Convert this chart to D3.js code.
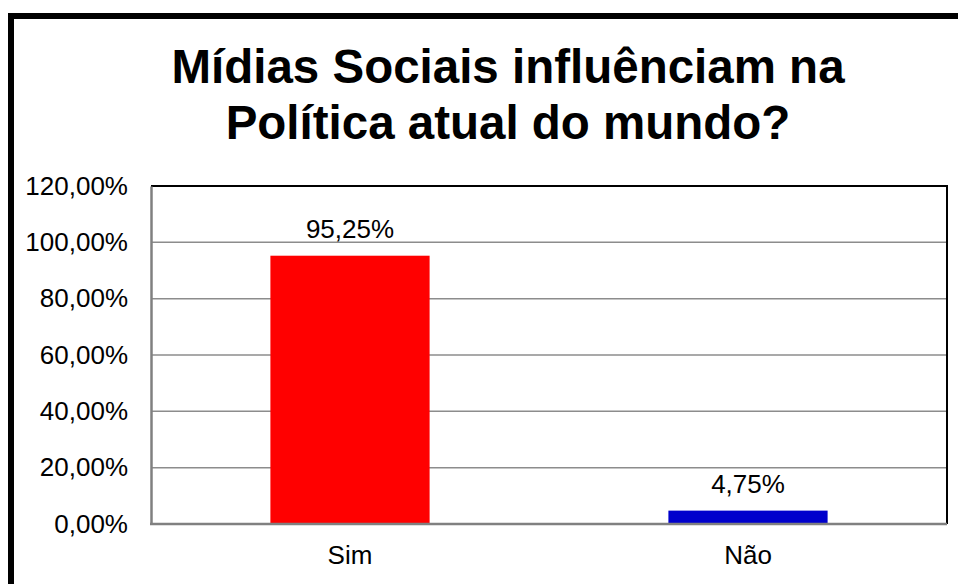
<!DOCTYPE html>
<html>
<head>
<meta charset="utf-8">
<script src="https://cdn.jsdelivr.net/npm/d3@7"></script>
<style>
html,body{margin:0;padding:0;background:#fff;}
svg{display:block;font-family:Arial,"Liberation Sans",sans-serif;}
</style>
</head>
<body>
<svg id="chart" width="958" height="584"></svg>
<script>
const categories = ["Sim", "Não"];
const values = [95.25, 4.75];
const colors = ["#FF0000", "#0000CC"];
const tickValues = [0, 20, 40, 60, 80, 100, 120];
const titleLines = ["Mídias Sociais influênciam na", "Política atual do mundo?"];

const fmt = v => d3.format(".2f")(v).replace(".", ",") + "%";

const svg = d3.select("#chart");
const m = {left: 151, top: 186, right: 947, bottom: 524};

// outer border
svg.append("rect").attr("x", 11).attr("y", 16).attr("width", 1000).attr("height", 700)
  .attr("fill", "#fff").attr("stroke", "#000").attr("stroke-width", 6);

// title
const title = svg.append("text").attr("text-anchor", "middle")
  .attr("font-weight", "bold").attr("font-size", 47.5).attr("fill", "#000");
titleLines.forEach((t, i) => {
  title.append("tspan").attr("x", 508).attr("y", 83 + i * 56).text(t);
});

const x = d3.scaleBand().domain(categories).range([m.left, m.right]).paddingInner(0.6).paddingOuter(0.3);
const y = d3.scaleLinear().domain([0, 120]).range([m.bottom, m.top]);

// gridlines
svg.append("g").selectAll("line").data(tickValues.filter(v => v > 0 && v < 120)).join("line")
  .attr("x1", m.left).attr("x2", m.right)
  .attr("y1", d => y(d)).attr("y2", d => y(d))
  .attr("stroke", "#8c8c8c").attr("stroke-width", 1.5);

// top and right border
svg.append("path")
  .attr("d", `M${m.left},${m.top}H${m.right}V${m.bottom}`)
  .attr("fill", "none").attr("stroke", "#000").attr("stroke-width", 2);

// bars
svg.append("g").selectAll("rect").data(values).join("rect")
  .attr("x", (d, i) => x(categories[i]))
  .attr("width", x.bandwidth())
  .attr("y", d => y(d))
  .attr("height", d => y(0) - y(d))
  .attr("fill", (d, i) => colors[i]);

// value labels
svg.append("g").selectAll("text").data(values).join("text")
  .attr("x", (d, i) => x(categories[i]) + x.bandwidth() / 2)
  .attr("y", d => y(d) - 18)
  .attr("text-anchor", "middle").attr("font-size", 26).attr("fill", "#000")
  .text(d => fmt(d));

// y axis
const yAxis = d3.axisLeft(y).tickValues(tickValues).tickSize(0).tickPadding(23).tickFormat(fmt);
const gy = svg.append("g").attr("transform", `translate(${m.left},0)`).call(yAxis);
gy.select(".domain").attr("stroke", "#808080").attr("stroke-width", 2.5);
gy.selectAll("text").attr("font-size", 26).attr("fill", "#000")
  .attr("font-family", 'Arial,"Liberation Sans",sans-serif');

// x axis
const xAxis = d3.axisBottom(x).tickSize(0).tickPadding(22);
const gx = svg.append("g").attr("transform", `translate(0,${m.bottom})`).call(xAxis);
gx.select(".domain").attr("stroke", "#808080").attr("stroke-width", 2.5)
  .attr("d", `M${m.left - 1},0H${m.right}`);
gx.selectAll("text").attr("font-size", 26).attr("fill", "#000")
  .attr("font-family", 'Arial,"Liberation Sans",sans-serif');
</script>
</body>
</html>
